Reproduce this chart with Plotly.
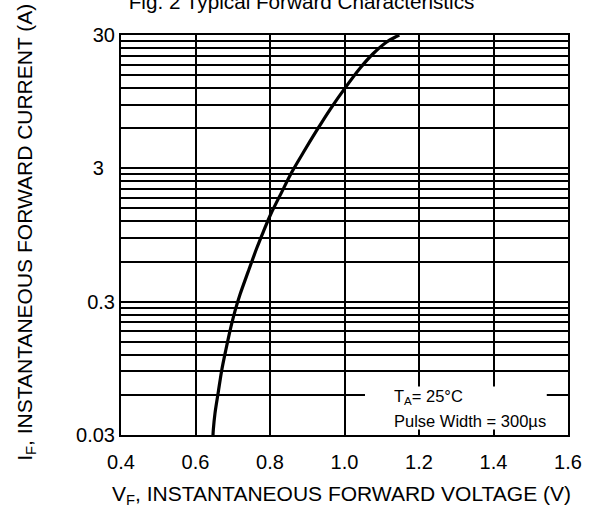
import math
import plotly.graph_objects as go

# ---- data ----
vf = [0.647, 0.6478, 0.6523, 0.6612, 0.6703, 0.6811, 0.6926, 0.7060, 0.7195,
      0.7417, 0.7643, 0.7820, 0.8019, 0.8314, 0.8583, 0.8894, 0.9254, 0.9611,
      1.0013, 1.0416, 1.0773, 1.1133, 1.1401, 1.147]
i_f = [0.030, 0.0328, 0.0436, 0.0631, 0.0915, 0.129, 0.1815, 0.255, 0.339,
       0.506, 0.754, 1.003, 1.357, 1.99, 2.80, 3.94, 5.77, 8.28,
       11.99, 16.9, 21.8, 26.6, 29.3, 30.0]

x_ticks = [0.4, 0.6, 0.8, 1.0, 1.2, 1.4, 1.6]
y_decades = [0.03, 0.3, 3]
y_top = 30
y_labels = {0.03: "0.03", 0.3: "0.3", 3: "3\u00a0\u00a0", 30: "30"}

title_text = "Fig. 2 Typical Forward Characteristics"
x_title = "V<sub>F</sub>, INSTANTANEOUS FORWARD VOLTAGE (V)"
y_title = "I<sub>F</sub>, INSTANTANEOUS FORWARD CURRENT (A)"
note_lines = ["T<sub>A</sub>= 25°C", "Pulse Width = 300µs"]

# ---- grid tick values (multiples within each decade) ----
tickvals, ticktext = [], []
for d in y_decades:
    for k in range(1, 10):
        tickvals.append(round(d * k, 6))
        ticktext.append(y_labels[d] if k == 1 else "")
tickvals.append(y_top)
ticktext.append(y_labels[y_top])

FONT = "Liberation Sans, Arial, sans-serif"

fig = go.Figure()
fig.add_trace(go.Scatter(x=vf, y=i_f, mode="lines",
                         line=dict(color="black", width=3.2, shape="spline",
                                   smoothing=0.8),
                         hoverinfo="skip", showlegend=False))

# white box behind the note
fig.add_shape(type="rect", xref="x", yref="y",
              x0=1.055, x1=1.543, y0=0.0330, y1=0.0693,
              fillcolor="white", line=dict(width=0), layer="above")
fig.add_annotation(x=1.1267, y=math.log10(0.0574), xref="x", yref="y",
                   text=note_lines[0], showarrow=False, xanchor="left",
                   font=dict(family=FONT, size=16.5, color="black"))
fig.add_annotation(x=1.1267, y=math.log10(0.0379), xref="x", yref="y",
                   text=note_lines[1], showarrow=False, xanchor="left",
                   font=dict(family=FONT, size=16.5, color="black"))

# axis titles
fig.add_annotation(x=0.4924, y=-0.151, xref="paper", yref="paper",
                   yanchor="middle", text=x_title, showarrow=False,
                   font=dict(family=FONT, size=21, color="black"))
fig.add_annotation(x=(24.5 - 120.5) / 447.8, y=0.506, xref="paper", yref="paper",
                   xanchor="center", text=y_title, showarrow=False, textangle=-90,
                   font=dict(family=FONT, size=21, color="black"))

fig.update_layout(
    width=596, height=511, autosize=False,
    margin=dict(l=120.5, r=27.7, t=34.5, b=75.5),
    paper_bgcolor="white", plot_bgcolor="white",
    title=dict(text=title_text, x=0.506, xref="container", xanchor="center",
               y=0.996, yref="container", yanchor="middle",
               font=dict(family=FONT, size=20.7, color="black")),
    font=dict(family=FONT, color="black"),
)
fig.update_xaxes(range=[0.4, 1.6], tickvals=x_ticks, tickformat=".1f",
                 showgrid=True, gridcolor="black", gridwidth=1.6,
                 showline=True, linecolor="black", linewidth=2, mirror=True,
                 ticks="", zeroline=False, ticklabelstandoff=8,
                 tickfont=dict(family=FONT, size=20, color="black"))
fig.update_yaxes(type="log", range=[math.log10(0.03), math.log10(30)],
                 tickvals=tickvals, ticktext=ticktext,
                 showgrid=True, gridcolor="black", gridwidth=1.6,
                 showline=True, linecolor="black", linewidth=2, mirror=True,
                 ticks="", zeroline=False, ticklabelstandoff=0,
                 tickfont=dict(family=FONT, size=20, color="black"))

fig.write_html("out.html", config={"displayModeBar": False},
               post_script="document.body.style.margin='0';")
